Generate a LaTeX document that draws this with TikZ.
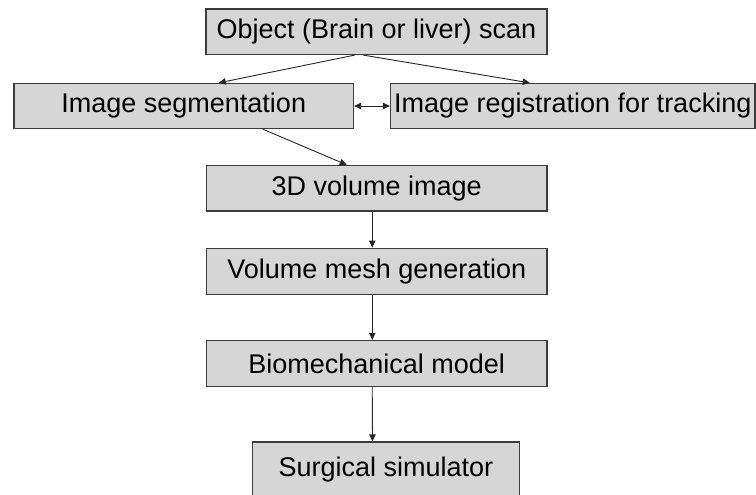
\documentclass[tikz,border=0pt]{standalone}
\usepackage{fontspec}
\setmainfont{Liberation Sans}
\usetikzlibrary{arrows.meta}
\definecolor{boxfill}{RGB}{214,214,214}
\definecolor{boxline}{RGB}{60,60,60}
\begin{document}
\begin{tikzpicture}[x=1pt,y=-1pt,
  stepbox/.style={draw=boxline,line width=1.3pt,fill=boxfill,inner sep=0pt,
    font=\fontsize{27}{32}\selectfont,text=black},
  conn/.style={draw=black!85,line width=0.9pt,-{Triangle[length=7pt,width=6.5pt]}},
  conn2/.style={draw=black!85,line width=0.9pt,{Triangle[length=7pt,width=6.5pt]}-{Triangle[length=7pt,width=6.5pt]}}]
\useasboundingbox (0,0) rectangle (756,495);
\begin{scope}
\clip (0,0) rectangle (756,495);
\node[stepbox,minimum width=341pt,minimum height=45.5pt] (scan) at (376.5,31.75) {Object (Brain or liver) scan};
\node[stepbox,minimum width=339.5pt,minimum height=45pt] (seg) at (183.75,106) {Image segmentation};
\node[stepbox,minimum width=364.5pt,minimum height=45pt] (reg) at (572.75,106) {Image registration for tracking};
\node[stepbox,minimum width=340.5pt,minimum height=45.5pt] (vol) at (376.75,188.25) {3D volume image};
\node[stepbox,minimum width=340.5pt,minimum height=46pt] (mesh) at (376.75,271.25) {Volume mesh generation};
\node[stepbox,minimum width=340.5pt,minimum height=46pt] (bio) at (376.75,363.5) {Biomechanical model};
\node[stepbox,minimum width=267pt,minimum height=55pt] (surg) at (386,469.5) {Surgical simulator};

\draw[conn] ([xshift=-22pt]scan.south) -- ([xshift=35pt]seg.north);
\draw[conn] ([xshift=-13pt]scan.south) -- ([xshift=-43pt]reg.north);
\draw[conn2] (seg.east) -- (reg.west);
\draw[conn] ([xshift=79pt]seg.south) -- ([xshift=-30pt]vol.north);
\draw[conn] ([xshift=-4.5pt]vol.south) -- ([xshift=-4.5pt]mesh.north);
\draw[conn] ([xshift=-4.5pt]mesh.south) -- ([xshift=-4.5pt]bio.north);
\draw[conn] ([xshift=-4.5pt]bio.south) -- ([xshift=-13.5pt]surg.north);
\end{scope}
\end{tikzpicture}
\end{document}
